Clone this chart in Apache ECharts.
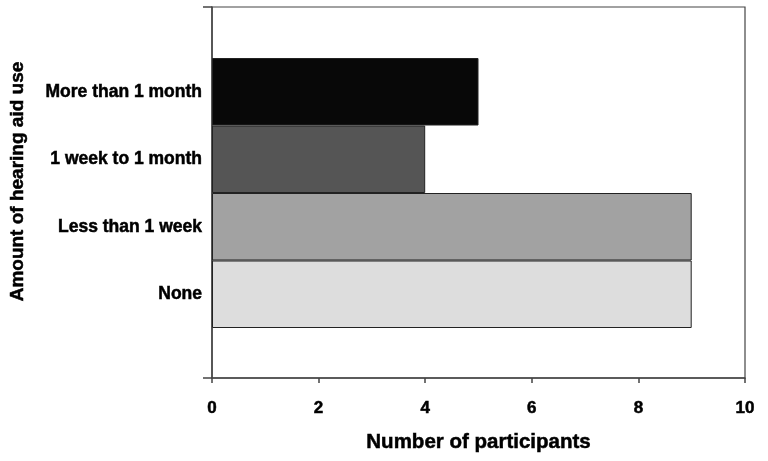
<!DOCTYPE html>
<html><head><meta charset="utf-8">
<script src="https://cdn.jsdelivr.net/npm/echarts@6/dist/echarts.min.js"></script>
<style>html,body{margin:0;padding:0;background:#fff}#c{width:768px;height:461px}</style>
</head><body><div id="c"></div>
<script>
const categories = ['More than 1 month', '1 week to 1 month', 'Less than 1 week', 'None'];
const participants = [5, 4, 9, 9];
const barColors = ['#080808', '#555555', '#a2a2a2', '#dddddd'];
const xTicks = [0, 2, 4, 6, 8, 10];

const font = 'Liberation Sans, Arial, sans-serif';
const heavy = {textBorderColor: '#000', textBorderWidth: 0.5};
const chart = echarts.init(document.getElementById('c'));
chart.setOption({
  animation: false,
  backgroundColor: '#fff',
  grid: [
    {left: 212, right: 23, top: 7, bottom: 83, show: true, borderColor: '#444', borderWidth: 1.2, backgroundColor: 'transparent'},
    {left: 212, right: 23, top: 58, bottom: 133}
  ],
  xAxis: [
    {gridIndex: 0, type: 'value', min: xTicks[0], max: xTicks[xTicks.length-1], interval: 2,
     name: 'Number of participants', nameLocation: 'middle', nameGap: 54,
     nameTextStyle: Object.assign({fontFamily: font, fontWeight: 'bold', fontSize: 20.5, color: '#000'}, heavy),
     axisLine: {show: true, lineStyle: {color: '#444', width: 1.5}},
     axisTick: {show: true, length: 5, lineStyle: {color: '#444', width: 1.5}},
     axisLabel: Object.assign({margin: 22, fontFamily: font, fontWeight: 'bold', fontSize: 17, color: '#000'}, heavy),
     splitLine: {show: false}},
    {gridIndex: 1, type: 'value', min: 0, max: 10, show: false}
  ],
  yAxis: [
    {gridIndex: 0, type: 'value', min: 0, max: 1, interval: 1,
     axisLine: {show: true, lineStyle: {color: '#444', width: 1.5}},
     axisTick: {show: true, length: 9, lineStyle: {color: '#444', width: 1.5}},
     axisLabel: {show: false}, splitLine: {show: false}},
    {gridIndex: 1, type: 'category', data: categories, inverse: true,
     axisLine: {show: false}, axisTick: {show: false},
     axisLabel: Object.assign({margin: 10, fontFamily: font, fontWeight: 'bold', fontSize: 17.5, color: '#000'}, heavy)}
  ],
  graphic: [{
    type: 'text', x: 17.5, y: 181.5, rotation: Math.PI/2,
    style: Object.assign({text: 'Amount of hearing aid use', fontFamily: font, fontWeight: 'bold', fontSize: 19,
            fill: '#000', align: 'center', verticalAlign: 'middle'}, {stroke: '#000', lineWidth: 0.5})
  }],
  series: [{
    type: 'bar', xAxisIndex: 1, yAxisIndex: 1,
    barWidth: '100%',
    data: participants.map((v, i) => ({value: v, itemStyle: {color: barColors[i]}})),
    itemStyle: {borderColor: '#222', borderWidth: 1}
  }]
});
</script></body></html>
